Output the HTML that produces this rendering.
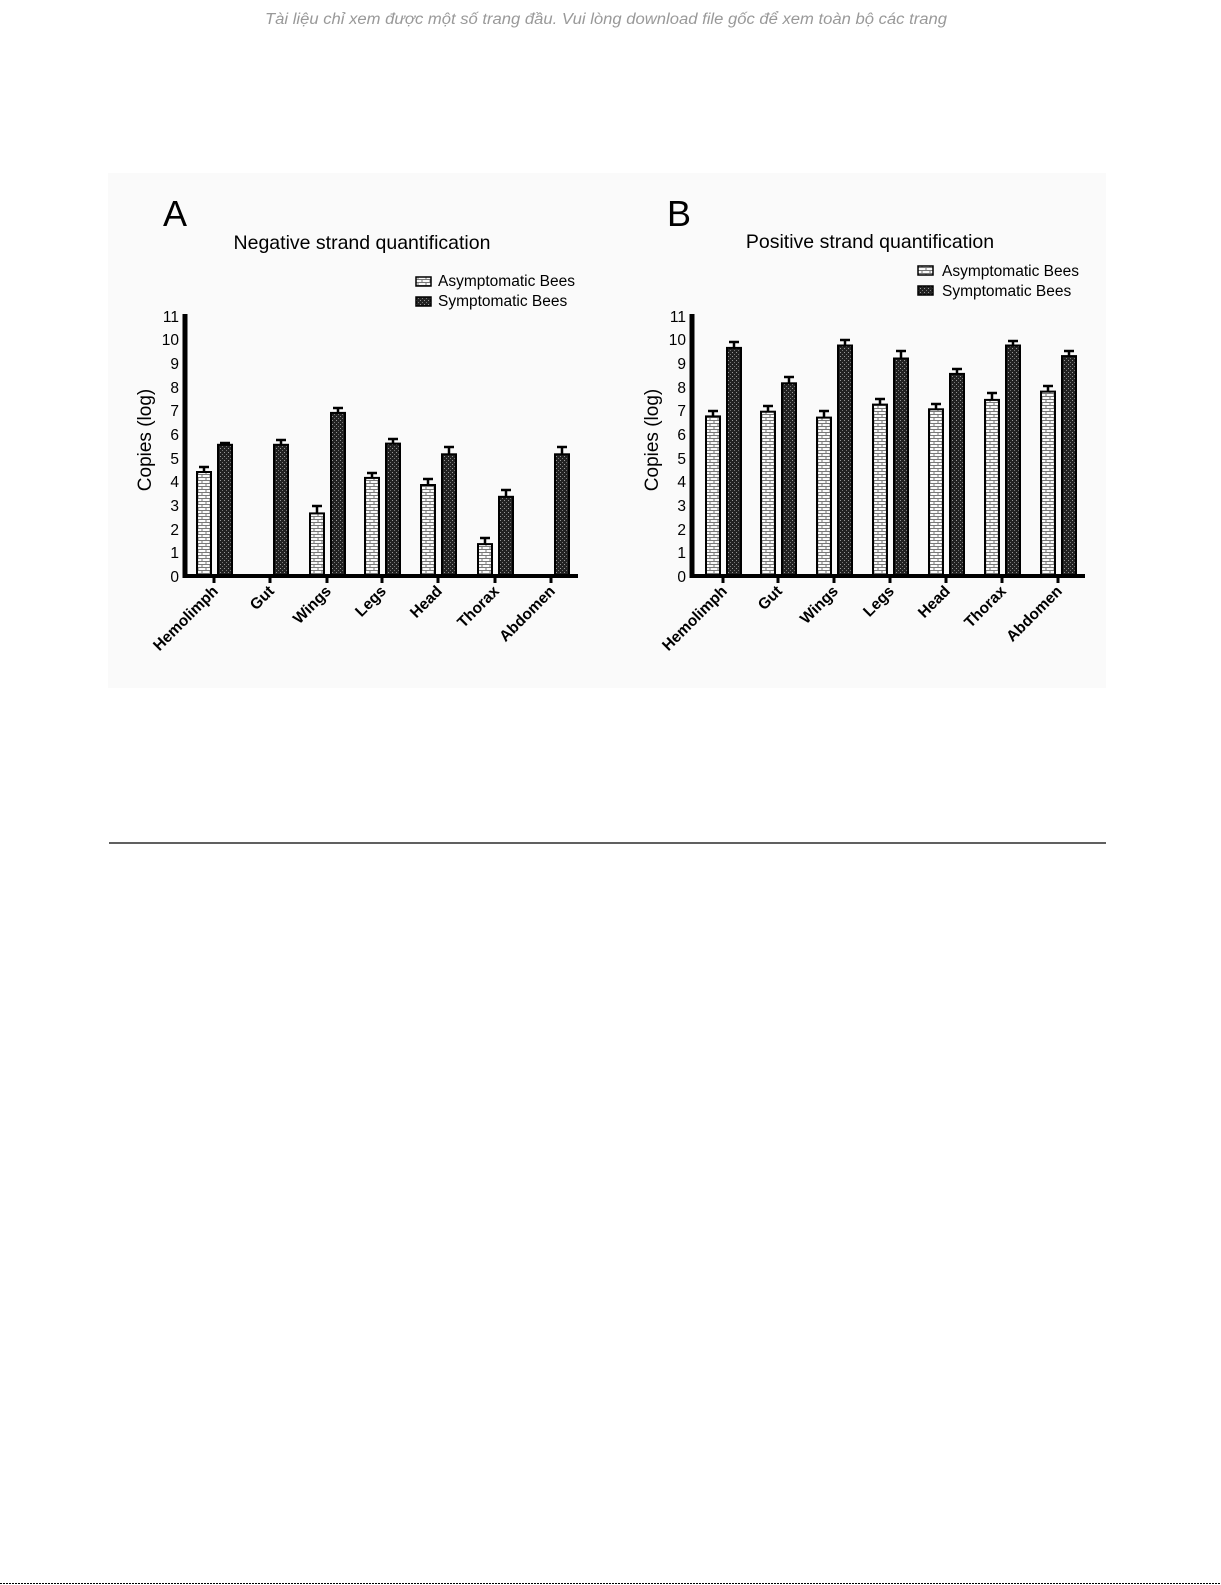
<!DOCTYPE html>
<html><head><meta charset="utf-8"><style>
html,body{margin:0;padding:0;background:#fff;}
svg{display:block;font-family:"Liberation Sans",Arial,sans-serif;}
</style></head><body>
<svg width="1221" height="1585" viewBox="0 0 1221 1585" xmlns="http://www.w3.org/2000/svg">
<defs>
<pattern id="brick" width="8" height="6" patternUnits="userSpaceOnUse">
<rect width="8" height="6" fill="#fafafa"/>
<path d="M0 0.5H8M0 3.5H8M2 0V3.5M6 3.5V6" stroke="#777" stroke-width="1" fill="none"/>
</pattern>
<pattern id="dots" width="4" height="4" patternUnits="userSpaceOnUse">
<rect width="4" height="4" fill="#222"/>
<rect x="0" y="0" width="1" height="1" fill="#999"/>
<rect x="2" y="2" width="1" height="1" fill="#777"/>
</pattern>
</defs>
<rect width="1221" height="1585" fill="#fff"/>
<text x="606" y="24" font-size="15.5" font-style="italic" fill="#999" text-anchor="middle" textLength="682" lengthAdjust="spacingAndGlyphs" style="font-family:'Liberation Sans','DejaVu Sans',sans-serif">Tài liệu chỉ xem được một số trang đầu. Vui lòng download file gốc để xem toàn bộ các trang</text>
<rect x="108" y="173" width="998" height="515" fill="#fafafa"/>
<line x1="109" y1="843" x2="1106" y2="843" stroke="#000" stroke-width="1.2"/>
<line x1="0" y1="1583.5" x2="1221" y2="1583.5" stroke="#000" stroke-width="1" stroke-dasharray="2,1"/>

<!-- Panel A -->
<text x="163" y="226" font-size="36">A</text>
<text x="362" y="249" font-size="19.5" text-anchor="middle">Negative strand quantification</text>
<rect x="416" y="277" width="15" height="9" fill="url(#brick)" stroke="#000" stroke-width="1.5"/>
<text x="438" y="286" font-size="15.5">Asymptomatic Bees</text>
<rect x="416" y="297" width="15" height="9" fill="url(#dots)" stroke="#000" stroke-width="1.5"/>
<text x="438" y="306" font-size="15.5">Symptomatic Bees</text>
<text transform="translate(151,440) rotate(-90)" font-size="19" text-anchor="middle">Copies (log)</text>
<g font-size="15.5" text-anchor="end">
<text x="179" y="582">0</text><text x="179" y="558">1</text><text x="179" y="535">2</text><text x="179" y="511">3</text><text x="179" y="487">4</text><text x="179" y="464">5</text><text x="179" y="440">6</text><text x="179" y="416">7</text><text x="179" y="393">8</text><text x="179" y="369">9</text><text x="179" y="345">10</text><text x="179" y="322">11</text>
</g>
<g stroke="#000" stroke-width="2">
<rect x="197" y="472" width="14" height="104" fill="url(#brick)"/>
<rect x="218" y="444.8" width="14" height="131.2" fill="url(#dots)"/>
<rect x="274" y="444.8" width="14" height="131.2" fill="url(#dots)"/>
<rect x="310" y="513.4" width="14" height="62.6" fill="url(#brick)"/>
<rect x="331" y="412.9" width="14" height="163.1" fill="url(#dots)"/>
<rect x="365" y="477.9" width="14" height="98.1" fill="url(#brick)"/>
<rect x="386" y="443.6" width="14" height="132.4" fill="url(#dots)"/>
<rect x="421" y="485" width="14" height="91" fill="url(#brick)"/>
<rect x="442" y="454.3" width="14" height="121.7" fill="url(#dots)"/>
<rect x="478" y="544.1" width="14" height="31.9" fill="url(#brick)"/>
<rect x="499" y="496.8" width="14" height="79.2" fill="url(#dots)"/>
<rect x="555" y="454.3" width="14" height="121.7" fill="url(#dots)"/>
</g>
<g stroke="#000" stroke-width="2.5" fill="none">
<path d="M204 472V467M199 467H209"/>
<path d="M225 445V443M220 443H230"/>
<path d="M281 445V440M276 440H286"/>
<path d="M317 513V506M312 506H322"/>
<path d="M338 413V408M333 408H343"/>
<path d="M372 478V473M367 473H377"/>
<path d="M393 444V439M388 439H398"/>
<path d="M428 485V479M423 479H433"/>
<path d="M449 454V447M444 447H454"/>
<path d="M485 544V538M480 538H490"/>
<path d="M506 497V490M501 490H511"/>
<path d="M562 454V447M557 447H567"/>
</g>
<line x1="185" y1="314" x2="185" y2="578" stroke="#000" stroke-width="5"/>
<line x1="183" y1="576" x2="578" y2="576" stroke="#000" stroke-width="4"/>
<g stroke="#000" stroke-width="3">
<path d="M214 576v7M270 576v7M327 576v7M382 576v7M438 576v7M495 576v7M551 576v7"/>
</g>
<g font-size="15.5" font-weight="bold" text-anchor="end">
<text transform="translate(219,592) rotate(-45)">Hemolimph</text>
<text transform="translate(275,592) rotate(-45)">Gut</text>
<text transform="translate(332,592) rotate(-45)">Wings</text>
<text transform="translate(387,592) rotate(-45)">Legs</text>
<text transform="translate(443,592) rotate(-45)">Head</text>
<text transform="translate(500,592) rotate(-45)">Thorax</text>
<text transform="translate(556,592) rotate(-45)">Abdomen</text>
</g>

<!-- Panel B -->
<text x="667" y="226" font-size="36">B</text>
<text x="870" y="248" font-size="19.5" text-anchor="middle">Positive strand quantification</text>
<rect x="918" y="266" width="15" height="9" fill="url(#brick)" stroke="#000" stroke-width="1.5"/>
<text x="942" y="276" font-size="15.5">Asymptomatic Bees</text>
<rect x="918" y="286" width="15" height="9" fill="url(#dots)" stroke="#000" stroke-width="1.5"/>
<text x="942" y="296" font-size="15.5">Symptomatic Bees</text>
<text transform="translate(658,440) rotate(-90)" font-size="19" text-anchor="middle">Copies (log)</text>
<g font-size="15.5" text-anchor="end">
<text x="686" y="582">0</text><text x="686" y="558">1</text><text x="686" y="535">2</text><text x="686" y="511">3</text><text x="686" y="487">4</text><text x="686" y="464">5</text><text x="686" y="440">6</text><text x="686" y="416">7</text><text x="686" y="393">8</text><text x="686" y="369">9</text><text x="686" y="345">10</text><text x="686" y="322">11</text>
</g>
<g stroke="#000" stroke-width="2">
<rect x="706" y="416.4" width="14" height="159.6" fill="url(#brick)"/>
<rect x="727" y="347.9" width="14" height="228.1" fill="url(#dots)"/>
<rect x="761" y="411.7" width="14" height="164.3" fill="url(#brick)"/>
<rect x="782" y="383.3" width="14" height="192.7" fill="url(#dots)"/>
<rect x="817" y="417.6" width="14" height="158.4" fill="url(#brick)"/>
<rect x="838" y="345.5" width="14" height="230.5" fill="url(#dots)"/>
<rect x="873" y="404.6" width="14" height="171.4" fill="url(#brick)"/>
<rect x="894" y="358.5" width="14" height="217.5" fill="url(#dots)"/>
<rect x="929" y="409.3" width="14" height="166.7" fill="url(#brick)"/>
<rect x="950" y="373.9" width="14" height="202.1" fill="url(#dots)"/>
<rect x="985" y="399.9" width="14" height="176.1" fill="url(#brick)"/>
<rect x="1006" y="345.5" width="14" height="230.5" fill="url(#dots)"/>
<rect x="1041" y="391.6" width="14" height="184.4" fill="url(#brick)"/>
<rect x="1062" y="356.1" width="14" height="219.9" fill="url(#dots)"/>
</g>
<g stroke="#000" stroke-width="2.5" fill="none">
<path d="M713 416V411M708 411H718"/>
<path d="M734 348V342M729 342H739"/>
<path d="M768 412V406M763 406H773"/>
<path d="M789 383V377M784 377H794"/>
<path d="M824 418V411M819 411H829"/>
<path d="M845 345V340M840 340H850"/>
<path d="M880 405V399M875 399H885"/>
<path d="M901 358V351M896 351H906"/>
<path d="M936 409V404M931 404H941"/>
<path d="M957 374V369M952 369H962"/>
<path d="M992 400V393M987 393H997"/>
<path d="M1013 345V341M1008 341H1018"/>
<path d="M1048 392V386M1043 386H1053"/>
<path d="M1069 356V351M1064 351H1074"/>
</g>
<line x1="692" y1="314" x2="692" y2="578" stroke="#000" stroke-width="5"/>
<line x1="690" y1="576" x2="1085" y2="576" stroke="#000" stroke-width="4"/>
<g stroke="#000" stroke-width="3">
<path d="M723 576v7M778 576v7M834 576v7M890 576v7M946 576v7M1002 576v7M1058 576v7"/>
</g>
<g font-size="15.5" font-weight="bold" text-anchor="end">
<text transform="translate(728,592) rotate(-45)">Hemolimph</text>
<text transform="translate(783,592) rotate(-45)">Gut</text>
<text transform="translate(839,592) rotate(-45)">Wings</text>
<text transform="translate(895,592) rotate(-45)">Legs</text>
<text transform="translate(951,592) rotate(-45)">Head</text>
<text transform="translate(1007,592) rotate(-45)">Thorax</text>
<text transform="translate(1063,592) rotate(-45)">Abdomen</text>
</g>
</svg>
</body></html>
